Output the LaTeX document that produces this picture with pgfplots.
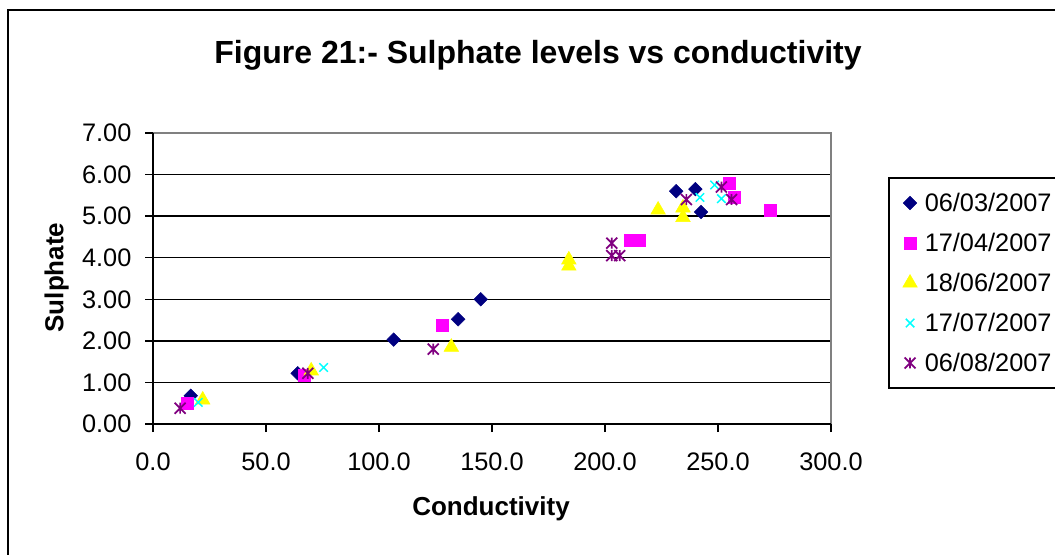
\documentclass[border=0pt]{standalone}
\usepackage{fontspec}
\setmainfont{Liberation Sans}
\usepackage{pgfplots}
\pgfplotsset{compat=1.18}

% Excel-style "star" marker: an x with a vertical bar through it
\pgfdeclareplotmark{xstar}{%
  \pgfpathmoveto{\pgfqpoint{-\pgfplotmarksize}{-\pgfplotmarksize}}%
  \pgfpathlineto{\pgfqpoint{\pgfplotmarksize}{\pgfplotmarksize}}%
  \pgfpathmoveto{\pgfqpoint{-\pgfplotmarksize}{\pgfplotmarksize}}%
  \pgfpathlineto{\pgfqpoint{\pgfplotmarksize}{-\pgfplotmarksize}}%
  \pgfpathmoveto{\pgfqpoint{0pt}{-\pgfplotmarksize}}%
  \pgfpathlineto{\pgfqpoint{0pt}{\pgfplotmarksize}}%
  \pgfusepathqstroke}

\definecolor{sNavy}{HTML}{000080}
\definecolor{sMagenta}{HTML}{FF00FF}
\definecolor{sYellow}{HTML}{FFFF00}
\definecolor{sCyan}{HTML}{00FFFF}
\definecolor{sPurple}{HTML}{800080}

\pgfplotsset{
  dots/.style={only marks,
    legend image code/.code={\path (-6pt,0pt) (6pt,0pt);
      \draw[##1] plot coordinates {(0pt,0pt)};}},
}

\begin{document}
\begin{tikzpicture}[x=1pt,y=1pt]
\useasboundingbox (0,0) rectangle (791.25,415.5);
% chart frame
\draw[line width=1.5pt] (6,-20) -- (6,408) -- (820,408);
\node[anchor=base, font=\bfseries\fontsize{24}{28}\selectfont] at (403.5,367.5)
  {Figure 21:- Sulphate levels vs conductivity};
\node[anchor=base, font=\bfseries\fontsize{19.5}{22}\selectfont] at (368.25,29.25) {Conductivity};
\node[anchor=base, rotate=90, font=\bfseries\fontsize{19.5}{22}\selectfont] at (47.5,207.4) {Sulphate};

\begin{axis}[
  at={(114.75pt,97.5pt)}, anchor=south west,
  scale only axis, width=508.5pt, height=218.25pt,
  xmin=0, xmax=300, ymin=0, ymax=7,
  xtick={0,50,...,300}, ytick={0,1,...,7},
  ymajorgrids, grid style={black, line width=1.1pt},
  axis line style={draw=none},
  clip=false,
  tick pos=left, tick align=outside, major tick length=6pt,
  tick style={black, line width=1.1pt},
  /pgf/number format/assume math mode=true,
  tick label style={font=\fontsize{19}{22}\selectfont, inner sep=0pt},
  xticklabel style={anchor=base, yshift=-29pt,
    /pgf/number format/.cd, fixed, fixed zerofill, precision=1},
  yticklabel style={anchor=east, xshift=-10pt,
    /pgf/number format/.cd, fixed, fixed zerofill, precision=2},
  legend style={at={(axis description cs:1.0841,0.8488)}, anchor=north west,
    draw=black, line width=1.5pt, fill=white,
    inner xsep=9pt, inner ysep=8.25pt, row sep=9pt, column sep=4.3pt,
    font=\fontsize{19}{22}\selectfont,
    nodes={inner sep=0pt, text height=16.5pt, text depth=4.5pt,
      text width=110pt, align=left}},
  legend cell align=left,
]
\addplot[dots, mark=square*, mark size=3.6pt,
  mark options={rotate=45, line width=0.4pt, draw=sNavy, fill=sNavy}]
  coordinates {(16.7,0.68) (64,1.22) (106.5,2.03) (135,2.52) (145,3.00)
               (231.5,5.60) (240,5.65) (242.5,5.10)};
\addlegendentry{06/03/2007}
\addplot[dots, mark=square*, mark size=4.5pt,
  mark options={line width=0.4pt, draw=sMagenta, fill=sMagenta}]
  coordinates {(15,0.50) (67,1.18) (128,2.38) (211,4.43) (215,4.43)
               (255,5.80) (257,5.45) (273,5.15)};
\addlegendentry{17/04/2007}
\addplot[dots, mark=triangle*, mark size=6.3pt,
  mark options={line width=0.4pt, draw=sYellow, fill=sYellow}]
  coordinates {(22,0.58) (70,1.28) (132,1.85) (184,3.95) (184,3.80)
               (223.5,5.15) (234.5,5.20) (234.5,4.97)};
\addlegendentry{18/06/2007}
\addplot[dots, mark=x, mark size=4.5pt,
  mark options={line width=1.1pt, draw=sCyan}]
  coordinates {(20,0.52) (75.5,1.36) (242,5.45) (248.5,5.75) (251.5,5.42)};
\addlegendentry{17/07/2007}
\addplot[dots, mark=xstar, mark size=4.1pt,
  mark options={line width=1.3pt, draw=sPurple}]
  coordinates {(12,0.38) (68.5,1.22) (124,1.80) (203,4.35) (203,4.05)
               (206.5,4.05) (236,5.40) (251.5,5.70) (256,5.40)};
\addlegendentry{06/08/2007}
% plot-area border: grey top and right, black axes left and bottom
\draw[gray, line width=1.5pt] (rel axis cs:0,1) -- (rel axis cs:1,1) -- (rel axis cs:1,0);
\draw[black, line width=1.5pt] (rel axis cs:0,1) -- (rel axis cs:0,0) -- (rel axis cs:1,0);
\end{axis}
\end{tikzpicture}
\end{document}
